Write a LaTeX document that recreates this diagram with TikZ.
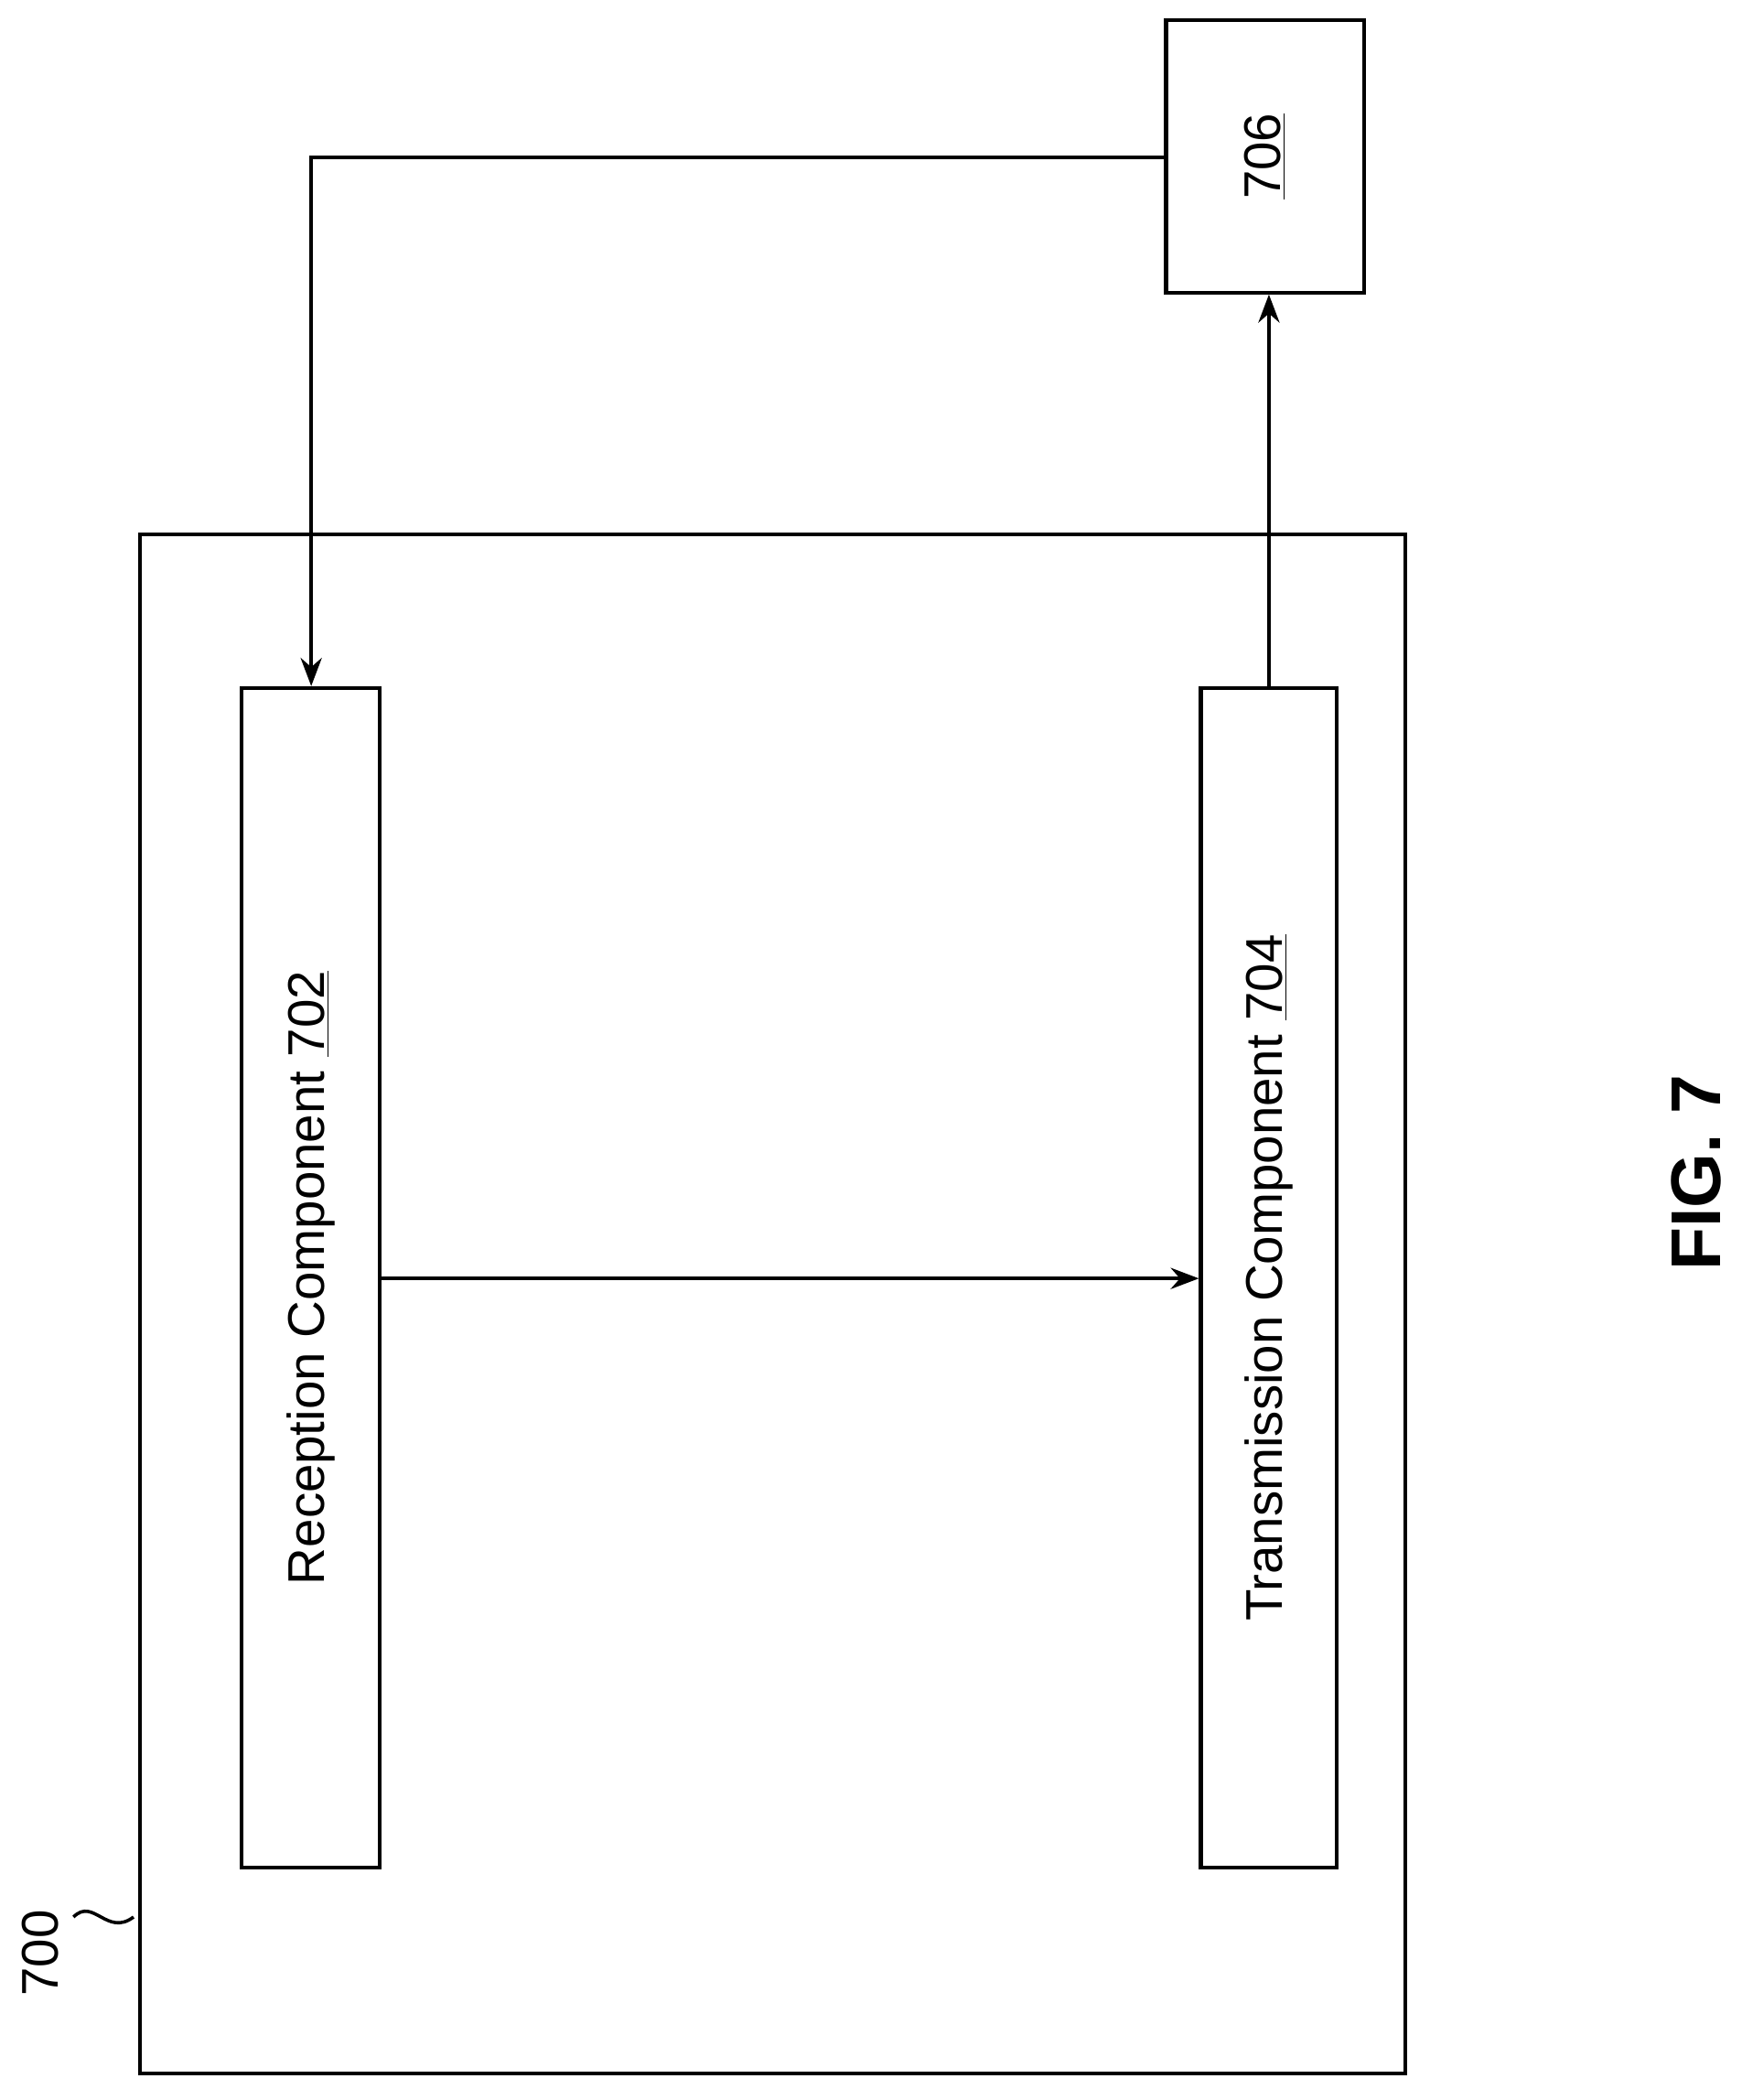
\documentclass[tikz,border=0pt]{standalone}
\usepackage{fontspec}
\setmainfont{Liberation Sans}
\usetikzlibrary{arrows.meta}
\begin{document}
\begin{tikzpicture}[x=0.02cm,y=-0.02cm,
  box/.style={draw,line width=1.6pt},
  conn/.style={line width=1.6pt,-{Stealth[length=12pt,width=9pt]}},
  lbl/.style={rotate=90,font=\fontsize{22}{26}\selectfont}]
\useasboundingbox (0,0) rectangle (1304,1572);
\draw[box] (105,400) rectangle (1052,1552);
\node[box,minimum width=103*0.02cm,minimum height=883*0.02cm] (rc) at (232.5,956.5) {};
\node[lbl] at (rc) {Reception Component \underline{702}};
\node[box,minimum width=102*0.02cm,minimum height=883*0.02cm] (tc) at (950,956.5) {};
\node[lbl] at (tc) {Transmission Component \underline{704}};
\node[box,minimum width=148*0.02cm,minimum height=204*0.02cm] (n6) at (947,117) {};
\node[lbl] at (n6) {\underline{706}};
\coordinate (c1) at (233,118);
\draw[conn] (n6.west |- c1) -- (c1) -- (rc.north -| c1);
\draw[conn] (tc.north) -- (n6.south -| tc.north);
\draw[conn] (rc.east |- 0,957) -- (tc.west |- 0,957);
\node[lbl,anchor=center] (l700) at (30,1462) {700};
\draw[line width=1.4pt] (55,1435) .. controls (70,1420) and (80,1450) .. (100,1435);
\node[rotate=90,font=\fontsize{30}{34}\selectfont\bfseries] (fig) at (1270,878) {FIG. 7};
\end{tikzpicture}
\end{document}
